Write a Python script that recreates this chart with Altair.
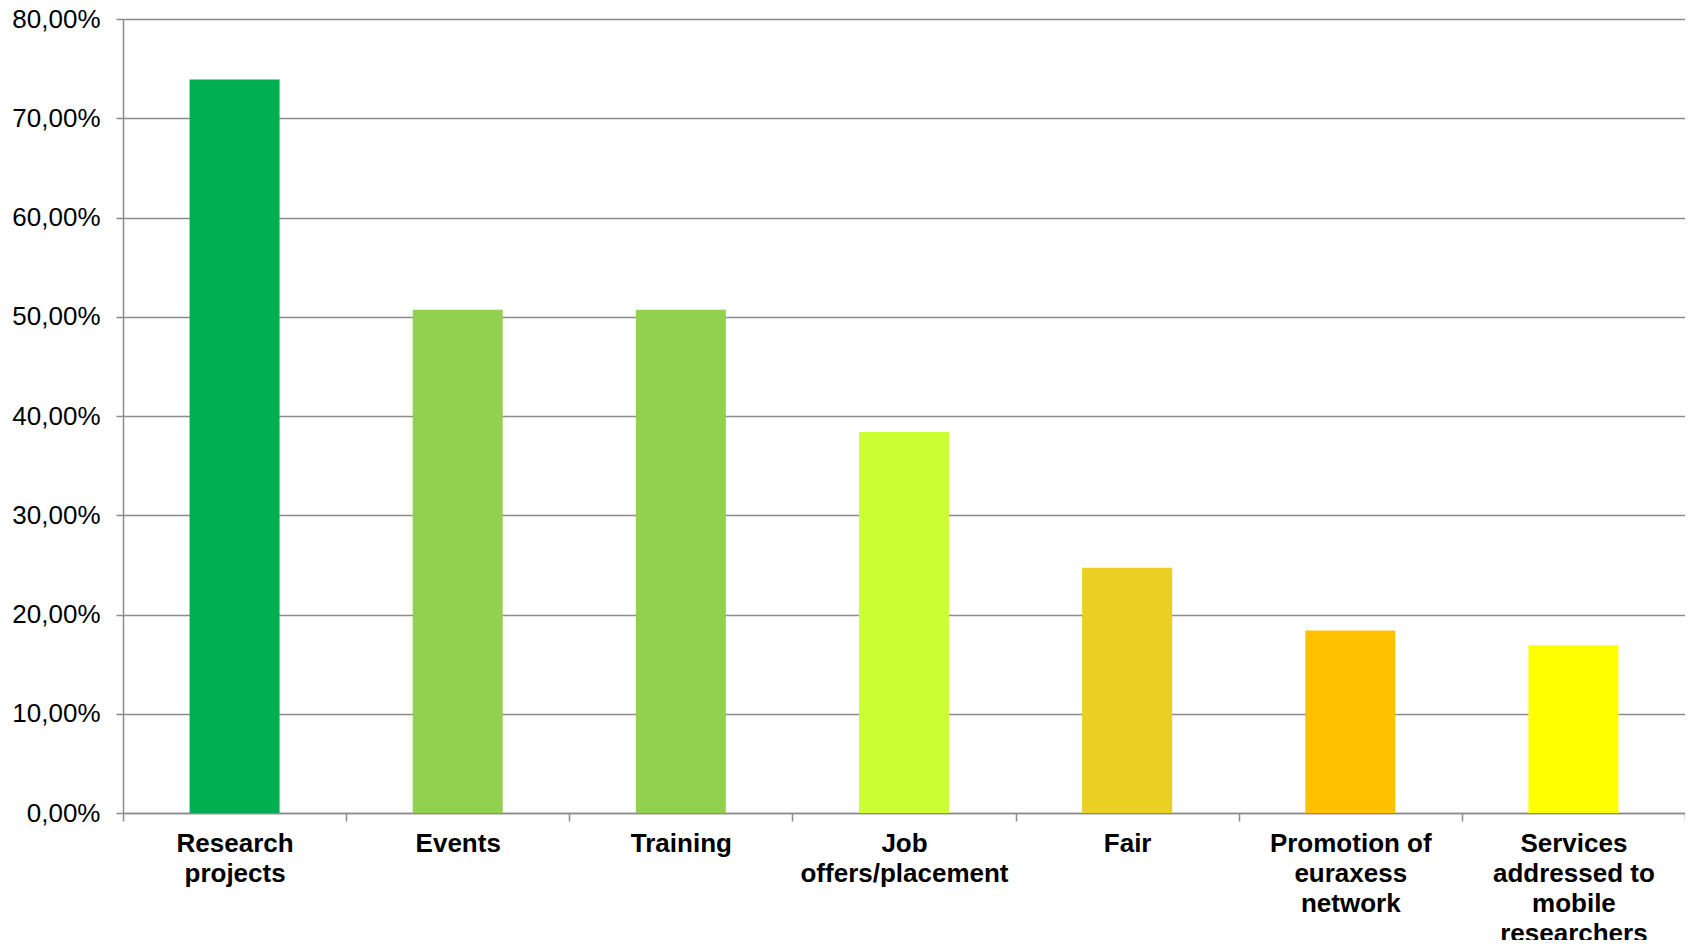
import altair as alt
import pandas as pd

categories = [
    "Research|projects",
    "Events",
    "Training",
    "Job|offers/placement",
    "Fair",
    "Promotion of|euraxess|network",
    "Services|addressed to|mobile|researchers",
]
values = [73.9, 50.7, 50.7, 38.4, 24.7, 18.4, 16.9]
colors = ["#00B050", "#92D050", "#92D050", "#CCFF33", "#EBCF22", "#FFC000", "#FFFF00"]
y_ticks = [0, 10, 20, 30, 40, 50, 60, 70, 80]

df = pd.DataFrame({"category": categories, "value": values})

font = "Liberation Sans"
grid_color = "#8C8C8C"

bars = alt.Chart(df).mark_bar(size=90).encode(
    x=alt.X(
        "category:N",
        sort=None,
        title=None,
        scale=alt.Scale(paddingInner=0, paddingOuter=0),
        axis=alt.Axis(
            labelAngle=0,
            labelExpr="split(datum.label, '|')",
            labelFont=font,
            labelFontSize=26,
            labelFontWeight="bold",
            labelColor="#000000",
            labelLineHeight=30,
            labelBaseline="top",
            labelPadding=9,
            labelLimit=300,
            tickBand="extent",
            tickSize=8,
            tickColor=grid_color,
            tickWidth=1.5,
            domainColor=grid_color,
            domainWidth=1.5,
            grid=False,
        ),
    ),
    y=alt.Y(
        "value:Q",
        title=None,
        scale=alt.Scale(domain=[0, 80], nice=False),
        axis=alt.Axis(
            values=y_ticks,
            labelExpr="replace(format(datum.value, '.2f'), '.', ',') + '%'",
            labelFont=font,
            labelFontSize=26,
            labelColor="#000000",
            labelPadding=16,
            tickSize=7,
            tickColor=grid_color,
            tickWidth=1.5,
            domainColor=grid_color,
            domainWidth=1.5,
            gridColor=grid_color,
            gridWidth=1.5,
        ),
    ),
    color=alt.Color(
        "category:N",
        sort=None,
        scale=alt.Scale(domain=categories, range=colors),
        legend=None,
    ),
)

chart = bars.properties(
    width=1562,
    height=794,
    autosize=alt.AutoSizeParams(type="none"),
    padding={"left": 115, "top": 11, "right": 0, "bottom": 127},
).configure_view(stroke=None)

chart.save("out.html", embed_options={"renderer": "svg", "actions": False})
